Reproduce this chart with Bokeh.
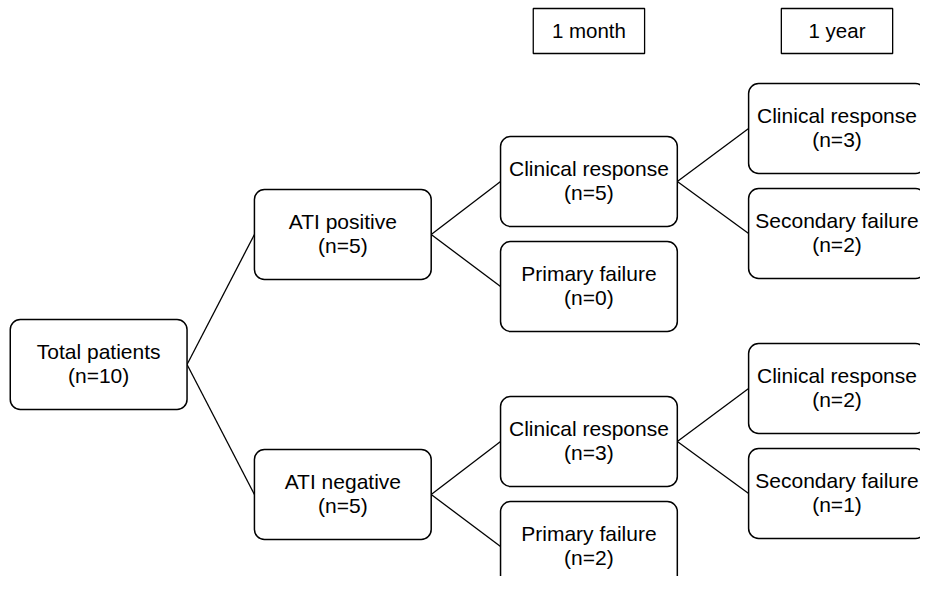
from bokeh.plotting import figure
from bokeh.models import Range1d, ColumnDataSource
from bokeh.core.properties import value
from bokeh.embed import file_html
from bokeh.resources import INLINE

# ---- data ----
node_labels = ["Total patients", "ATI positive", "ATI negative",
               "Clinical response", "Primary failure",
               "Clinical response", "Primary failure",
               "Clinical response", "Secondary failure",
               "Clinical response", "Secondary failure"]
node_counts = [10, 5, 5, 5, 0, 3, 2, 3, 2, 2, 1]
node_parent = [None, 0, 0, 1, 1, 2, 2, 3, 3, 5, 5]
node_level = [0, 1, 1, 2, 2, 2, 2, 3, 3, 3, 3]
time_labels = ["1 month", "1 year"]
time_levels = [2, 3]

# ---- layout (page pixels) ----
col_x = [100.5, 350.5, 602.5, 856.5]
node_y = [364, 234, 494, 181, 286, 441, 546, 128, 233, 388, 493]
box_w, box_h = 181, 90
time_y, time_w, time_h = 30.5, 114, 45
font = value("Liberation Sans")
fsize = "21px"

p = figure(width=920, height=576, output_backend="svg", toolbar_location=None,
           x_range=Range1d(0, 942), y_range=Range1d(576, 0),
           min_border=0)
p.axis.visible = False
p.grid.visible = False
p.outline_line_color = None

xs = [col_x[l] for l in node_level]

# edges
ex0, ey0, ex1, ey1 = [], [], [], []
for i, par in enumerate(node_parent):
    if par is None:
        continue
    ex0.append(xs[par] + box_w / 2)
    ey0.append(node_y[par])
    ex1.append(xs[i] - box_w / 2)
    ey1.append(node_y[i])
p.segment(x0=ex0, y0=ey0, x1=ex1, y1=ey1, line_color="black", line_width=1.3)

src = ColumnDataSource(dict(
    x=xs, y=node_y,
    y1=[y - 13 for y in node_y],
    y2=[y + 11 for y in node_y],
    label=node_labels,
    count=["(n=%d)" % c for c in node_counts],
))
p.rect(x="x", y="y", width=box_w, height=box_h, source=src,
       fill_color="white", line_color="black", line_width=1.5,
       border_radius=10)
p.text(x="x", y="y1", text="label", source=src, text_align="center",
       text_baseline="alphabetic", text_font=font, text_font_size=fsize,
       text_color="black")
p.text(x="x", y="y2", text="count", source=src, text_align="center",
       text_baseline="alphabetic", text_font=font, text_font_size=fsize,
       text_color="black")

tsrc = ColumnDataSource(dict(
    x=[col_x[l] for l in time_levels],
    y=[time_y] * len(time_labels),
    yt=[time_y - 1] * len(time_labels),
    label=time_labels,
))
p.rect(x="x", y="y", width=time_w, height=time_h, source=tsrc,
       fill_color="white", line_color="black", line_width=1.3)
p.text(x="x", y="yt", text="label", source=tsrc, text_align="center",
       text_baseline="middle", text_font=font, text_font_size="20.5px",
       text_color="black")

open("out.html", "w").write(file_html(p, INLINE))
